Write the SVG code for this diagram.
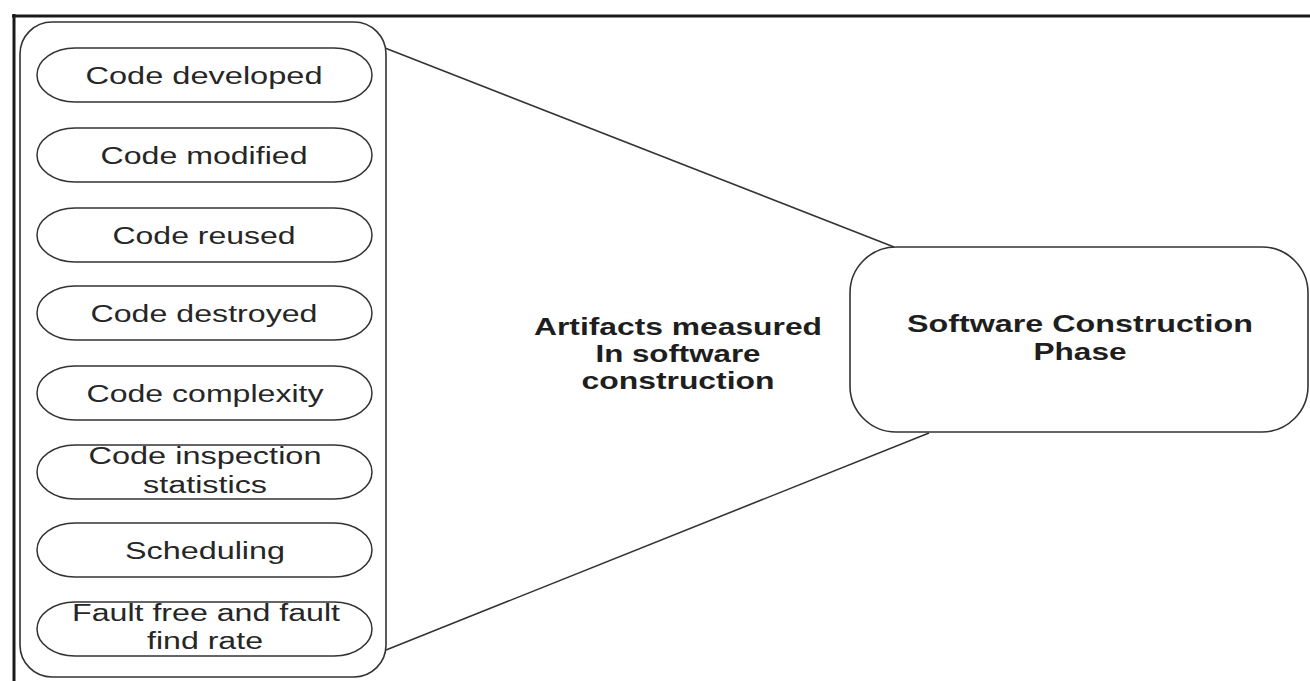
<svg xmlns="http://www.w3.org/2000/svg" width="1310" height="681" viewBox="0 0 1310 681">
<style>
.frame{stroke:#1a1a1a;stroke-width:3;fill:none}
.box{fill:#fff;stroke:#333;stroke-width:1.6}
.pill{fill:#fff;stroke:#333;stroke-width:1.5}
.conn{stroke:#333;stroke-width:1.6;fill:none}
.t{font-family:"Liberation Sans",Arial,sans-serif;font-size:23px;fill:#262626;text-anchor:middle}
.b{font-family:"Liberation Sans",Arial,sans-serif;font-size:23px;font-weight:bold;fill:#1e1e1e;text-anchor:middle}
</style>
<rect width="1310" height="681" fill="#fff"/>
<g id="frame">
<line class="frame" x1="12" y1="16" x2="1310" y2="16"/>
<line class="frame" x1="14" y1="14" x2="14" y2="681"/>
</g>
<g id="connectors">
<line class="conn" x1="385" y1="48" x2="894" y2="247"/>
<line class="conn" x1="386" y1="650" x2="929" y2="433"/>
</g>
<g id="container">
<rect class="box" x="20" y="22" width="366" height="655" rx="32" ry="32"/>
</g>
<g id="n1"><rect class="pill" x="37" y="48" width="335" height="54" rx="38" ry="27"/><text class="t" x="204" y="84" textLength="237" lengthAdjust="spacingAndGlyphs">Code developed</text></g>
<g id="n2"><rect class="pill" x="37" y="128" width="335" height="54" rx="38" ry="27"/><text class="t" x="204" y="164" textLength="207" lengthAdjust="spacingAndGlyphs">Code modified</text></g>
<g id="n3"><rect class="pill" x="37" y="208" width="335" height="54" rx="38" ry="27"/><text class="t" x="204" y="244" textLength="183" lengthAdjust="spacingAndGlyphs">Code reused</text></g>
<g id="n4"><rect class="pill" x="37" y="286" width="335" height="54" rx="38" ry="27"/><text class="t" x="204" y="322" textLength="227" lengthAdjust="spacingAndGlyphs">Code destroyed</text></g>
<g id="n5"><rect class="pill" x="37" y="366" width="335" height="54" rx="38" ry="27"/><text class="t" x="205" y="402" textLength="237" lengthAdjust="spacingAndGlyphs">Code complexity</text></g>
<g id="n6"><rect class="pill" x="37" y="445" width="335" height="54" rx="38" ry="27"/><text class="t" x="205" y="464" textLength="233" lengthAdjust="spacingAndGlyphs">Code inspection</text><text class="t" x="205" y="493" textLength="124" lengthAdjust="spacingAndGlyphs">statistics</text></g>
<g id="n7"><rect class="pill" x="37" y="523" width="335" height="54" rx="38" ry="27"/><text class="t" x="205" y="559" textLength="160" lengthAdjust="spacingAndGlyphs">Scheduling</text></g>
<g id="n8"><rect class="pill" x="37" y="602" width="335" height="54" rx="38" ry="27"/><text class="t" x="206" y="621" textLength="268" lengthAdjust="spacingAndGlyphs">Fault free and fault</text><text class="t" x="205" y="649" textLength="116" lengthAdjust="spacingAndGlyphs">find rate</text></g>
<g id="label">
<text class="b" x="678" y="335" textLength="288" lengthAdjust="spacingAndGlyphs">Artifacts measured</text>
<text class="b" x="678" y="362" textLength="165" lengthAdjust="spacingAndGlyphs">In software</text>
<text class="b" x="678" y="389" textLength="193" lengthAdjust="spacingAndGlyphs">construction</text>
</g>
<g id="phase">
<rect class="box" x="850" y="247" width="458" height="185" rx="46" ry="46"/>
<text class="b" x="1080" y="332" textLength="346" lengthAdjust="spacingAndGlyphs">Software Construction</text>
<text class="b" x="1080" y="360" textLength="93" lengthAdjust="spacingAndGlyphs">Phase</text>
</g>
</svg>
